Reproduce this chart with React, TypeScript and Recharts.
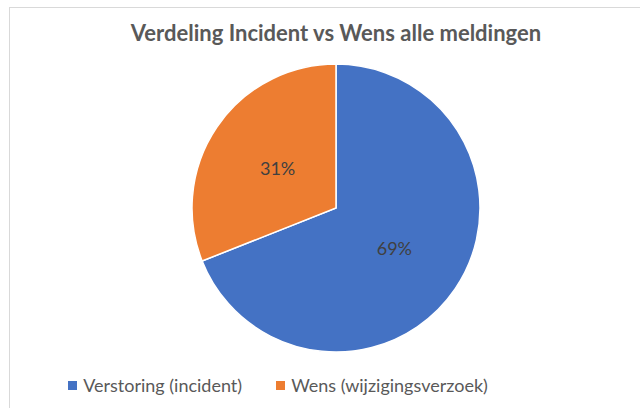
import { PieChart, Pie, Cell, Legend } from 'recharts'

const categories = ['Verstoring (incident)', 'Wens (wijzigingsverzoek)']
const values = [69, 31]
const colors = ['#4472C4', '#ED7D31']

const data = categories.map((name, i) => ({ name, value: values[i] }))

const RADIAN = Math.PI / 180

const renderLabel = ({ cx, cy, midAngle, outerRadius, percent }: any) => {
  const r = outerRadius * 0.49
  const x = cx + r * Math.cos(-midAngle * RADIAN)
  const y = cy + r * Math.sin(-midAngle * RADIAN)
  return (
    <text
      x={x}
      y={y}
      fill="#404040"
      fontSize={18}
      fontFamily="Lato, 'Open Sans', sans-serif"
      textAnchor="middle"
      dominantBaseline="central"
    >
      {`${Math.round(percent * 100)}%`}
    </text>
  )
}

const renderLegend = ({ payload }: any) => (
  <div
    style={{
      display: 'flex',
      justifyContent: 'center',
      gap: 34,
      fontFamily: "Lato, 'Open Sans', sans-serif",
      fontSize: 18,
      color: '#595959',
    }}
  >
    {payload.map((entry: any) => (
      <div key={entry.value} style={{ display: 'flex', alignItems: 'center' }}>
        <span
          style={{
            display: 'inline-block',
            width: 9,
            height: 9,
            background: entry.color,
            marginRight: 6,
          }}
        />
        <span>{entry.value}</span>
      </div>
    ))}
  </div>
)

export default function App() {
  return (
    <div
      style={{
        position: 'absolute',
        left: 0,
        top: 0,
        width: 640,
        height: 408,
        overflow: 'hidden',
        background: '#fff',
      }}
    >
      <div
        style={{
          position: 'absolute',
          left: 9,
          top: 7,
          width: 660,
          height: 420,
          border: '1px solid #d9d9d9',
          boxSizing: 'border-box',
        }}
      />
      <div
        style={{
          position: 'absolute',
          left: 0,
          top: 19,
          width: 672,
          textAlign: 'center',
          fontFamily: "Lato, 'Open Sans', sans-serif",
          fontWeight: 700,
          fontSize: 22,
          color: '#595959',
        }}
      >
        Verdeling Incident vs Wens alle meldingen
      </div>
      <div style={{ position: 'absolute', left: 0, top: 0 }}>
        <PieChart width={640} height={408} margin={{ top: 0, right: 0, bottom: 0, left: 0 }}>
          <Pie
            data={data}
            dataKey="value"
            nameKey="name"
            cx={336}
            cy={208}
            outerRadius={144}
            startAngle={90}
            endAngle={-270}
            stroke="#ffffff"
            strokeWidth={1.5}
            labelLine={false}
            label={renderLabel}
            isAnimationActive={false}
          >
            {data.map((d, i) => (
              <Cell key={d.name} fill={colors[i]} />
            ))}
          </Pie>
          <Legend
            verticalAlign="bottom"
            content={renderLegend}
            wrapperStyle={{ left: 0, width: 556, bottom: 12 }}
          />
        </PieChart>
      </div>
    </div>
  )
}
